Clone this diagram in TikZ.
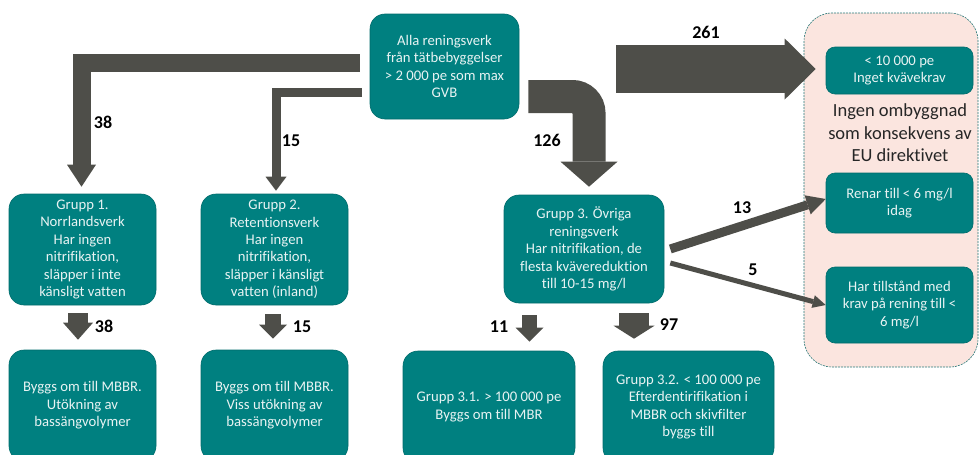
\documentclass[tikz,border=0pt]{standalone}
\usepackage{fontspec}
\setmainfont{Carlito}[Ligatures=NoCommon]
\usetikzlibrary{arrows.meta,calc}
\definecolor{tealbox}{RGB}{0,128,128}
\definecolor{tealedge}{RGB}{0,108,108}
\definecolor{boxtext}{RGB}{232,243,243}
\definecolor{arrowgray}{RGB}{78,78,73}
\definecolor{panelfill}{RGB}{251,229,223}
\definecolor{paneledge}{RGB}{40,120,120}
\definecolor{labeltext}{RGB}{38,38,38}
\begin{document}
\begin{tikzpicture}[x=1pt,y=-1pt,
  box/.style={draw=tealedge, line width=0.6pt, fill=tealbox, rounded corners=15pt, text=boxtext,
    align=center, inner sep=0pt, font=\fontsize{14.7}{17.4}\selectfont},
  pbox/.style={box, rounded corners=9pt},
  blk/.style={draw=arrowgray, line join=miter, line cap=butt},
  num/.style={font=\fontsize{18}{18}\bfseries\selectfont, text=black, inner sep=0pt},
]
\clip (0,0) rectangle (980,455);
% right panel
\node[draw=paneledge, line width=0.6pt, dash pattern=on 2pt off 1pt, fill=panelfill,
  rounded corners=28pt, minimum width=174pt, minimum height=354pt, inner sep=0pt] (panel) at (891,190) {};
\node[pbox, minimum width=147pt, minimum height=47pt] (p1) at (899.5,70.5) {< 10 000 pe\\Inget kvävekrav};
\node[font=\fontsize{18.5}{22.5}\selectfont, text=labeltext, align=center, inner sep=0pt] (ptext) at (900,133)
  {Ingen ombyggnad\\som konsekvens av\\EU direktivet};
\node[pbox, minimum width=147pt, minimum height=60pt] (p2) at (899.5,203) {Renar till < 6 mg/l\\idag};
\node[pbox, minimum width=147pt, minimum height=76pt] (p3) at (899.5,305) {Har tillstånd med\\krav på rening till <\\6 mg/l};
% boxes
\node[box, minimum width=149pt, minimum height=105pt] (all) at (444.5,66.5)
  {Alla reningsverk\\från tätbebyggelser\\> 2 000 pe som max\\GVB};
\node[box, minimum width=147pt, minimum height=111pt] (g1) at (82.5,249.5)
  {Grupp 1.\\Norrlandsverk\\Har ingen\\nitrifikation,\\släpper i inte\\känsligt vatten};
\node[box, minimum width=147pt, minimum height=111pt] (g2) at (274.5,249.5)
  {Grupp 2.\\Retentionsverk\\Har ingen\\nitrifikation,\\släpper i känsligt\\vatten (inland)};
\node[box, minimum width=160pt, minimum height=108pt] (g3) at (584,249)
  {Grupp 3. Övriga\\reningsverk\\Har nitrifikation, de\\flesta kvävereduktion\\till 10-15 mg/l};
\node[box, minimum width=147pt, minimum height=111pt] (b1) at (82.5,405.5)
  {Byggs om till MBBR.\\Utökning av\\bassängvolymer};
\node[box, minimum width=147pt, minimum height=111pt] (b2) at (274.5,405.5)
  {Byggs om till MBBR.\\Viss utökning av\\bassängvolymer};
\node[box, minimum width=172pt, minimum height=112pt] (b31) at (489,407)
  {Grupp 3.1. > 100 000 pe\\Byggs om till MBR};
\node[box, minimum width=171pt, minimum height=112pt] (b32) at (688.5,407)
  {Grupp 3.2. < 100 000 pe\\Efterdentirifikation i\\MBBR och skivfilter\\byggs till};
% block arrows
\draw[blk, line width=18pt, -{Triangle[width=29pt 0 0, length=22pt 0 0, line width=0pt 0 0]}]
  ($(all.west)+(-10,-3.5)$) -| ($(g1.north)+(-1,-7)$);
\draw[blk, line width=9pt, -{Triangle[width=21pt 0 0, length=14pt 0 0, line width=0pt 0 0]}]
  ($(all.west)+(-8,26)$) -| ($(g2.north)+(1.5,-3)$);
\draw[blk, line width=33pt, rounded corners=16.5pt, -{Triangle[width=57pt 0 0, length=25pt 0 0, line width=0pt 0 0]}]
  ($(all.east)+(9,30)$) -| ($(g3.north)+(5,-8)$);
\draw[blk, line width=48pt, -{Triangle[width=61pt 0 0, length=31pt 0 0, line width=0pt 0 0]}]
  ($(all.east)+(97,2.5)$) -- ($(p1.west)+(-10,-1.5)$);
\draw[blk, line width=9pt, -{Triangle[width=20pt 0 0, length=19pt 0 0, line width=0pt 0 0]}]
  ($(g3.east)+(6,0)$) -- ($(p2.west)+(0,-4)$);
\draw[blk, line width=5pt, -{Triangle[width=13pt 0 0, length=13pt 0 0, line width=0pt 0 0]}]
  ($(g3.east)+(6,14)$) -- (p3.west);
\draw[blk, line width=20pt, -{Triangle[width=30pt 0 0, length=17pt 0 0, line width=0pt 0 0]}]
  ($(g1.south)+(-4.5,8)$) -- ($(b1.north)+(-4.5,-10)$);
\draw[blk, line width=16pt, -{Triangle[width=28pt 0 0, length=14pt 0 0, line width=0pt 0 0]}]
  ($(g2.south)+(-1.5,9)$) -- ($(b2.north)+(-1.5,-11)$);
\draw[blk, line width=15pt, -{Triangle[width=28pt 0 0, length=14pt 0 0, line width=0pt 0 0]}]
  ($(g3.south)+(-54.5,12)$) -- ($(b31.north)+(40.5,-9)$);
\draw[blk, line width=30pt, -{Triangle[width=41pt 0 0, length=13pt 0 0, line width=0pt 0 0]}]
  ($(g3.south)+(50,10)$) -- ($(b32.north)+(-54.5,-12)$);
% numbers
\node[num] (n38) at (103,122) {38};
\node[num] (n15) at (291,141) {15};
\node[num] (n126) at (547,140) {126};
\node[num] (n261) at (706,32) {261};
\node[num] (n13) at (742,208) {13};
\node[num] (n5) at (753,270) {5};
\node[num] (n38b) at (104,326) {38};
\node[num] (n15b) at (302,327) {15};
\node[num] (n11) at (499,327) {11};
\node[num] (n97) at (669,325) {97};
\end{tikzpicture}
\end{document}
